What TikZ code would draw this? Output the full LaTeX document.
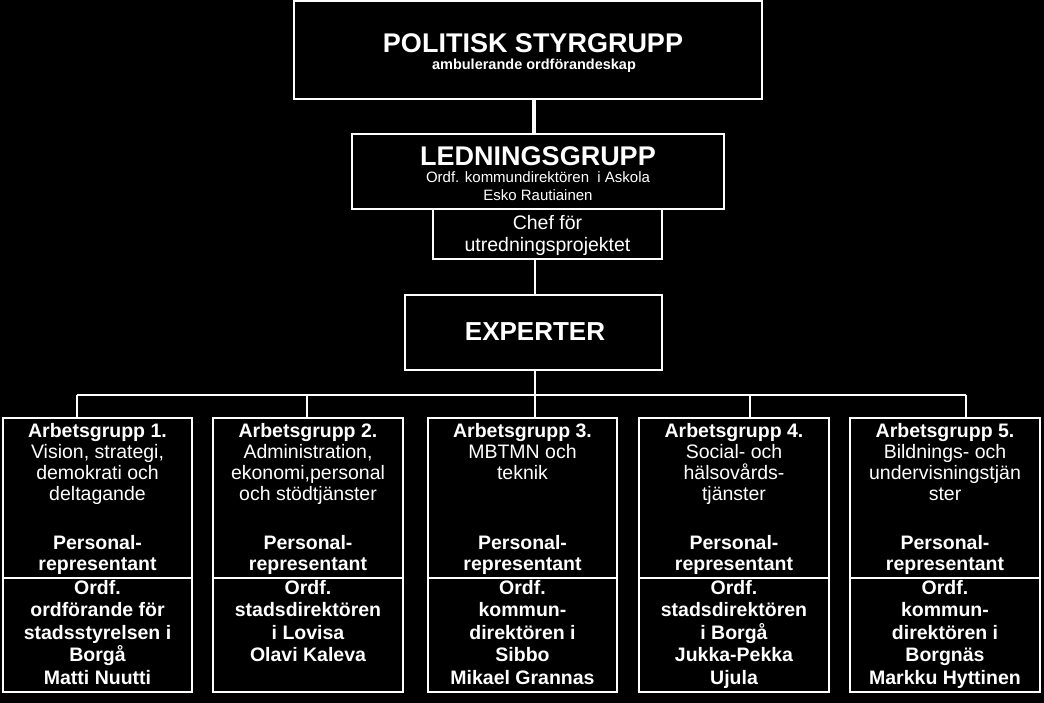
\documentclass[tikz,border=0pt]{standalone}
\usepackage{fontspec}
\setmainfont{Liberation Sans}
\begin{document}
\begin{tikzpicture}[x=1pt,y=-1pt,
  box/.style={draw=white,line width=1.6pt,inner sep=0pt},
  wline/.style={draw=white,line width=2pt},
  gt/.style={text=white,align=center,anchor=north,font=\fontsize{19.5}{21}\selectfont,inner sep=0pt},
]
\fill[black] (0,0) rectangle (1044,703);
\useasboundingbox (0,0) rectangle (1044,703);
\node[box,minimum width=468,minimum height=98] (pol) at (528,50) {};
\node[text=white,font=\bfseries\fontsize{27}{30}\selectfont] (polt) at (533,43) {POLITISK STYRGRUPP};
\node[text=white,font=\bfseries\fontsize{14.5}{16}\selectfont] (pols) at (534,66) {ambulerande ordförandeskap};
\node[box,minimum width=372,minimum height=75] (led) at (538,171.5) {};
\node[text=white,font=\bfseries\fontsize{27}{30}\selectfont] (ledt) at (538,156) {LEDNINGSGRUPP};
\node[gt,font=\fontsize{15}{18}\selectfont] (leds) at (538,171) {Ordf. kommundirektören\ \ i Askola\\Esko Rautiainen};
\node[box,minimum width=229,minimum height=50] (chef) at (547.5,234) {};
\node[gt,font=\fontsize{19.5}{22}\selectfont] (chefs) at (547.5,215) {Chef för\\utredningsprojektet};
\node[box,minimum width=257,minimum height=75] (exp) at (533.5,332.5) {};
\node[text=white,font=\bfseries\fontsize{26}{30}\selectfont] (expt) at (535,332) {EXPERTER};
\draw[white,line width=4pt] (pol.south -| 534,0) -- (led.north -| 534,0);
\draw[wline] (chef.south -| 535,0) -- (exp.north -| 535,0);
\coordinate (bus) at (535,395);
\draw[wline] (exp.south -| 535,0) -- (bus);
\draw[wline] (77,395) -- (966,395);
\foreach \i/\l/\r/\cx in {1/3/192/77,2/213/403/307,3/428/617/535,4/639/829/750,5/850/1040/966}{
  \node[box,minimum width={\r-\l},minimum height=274] (g\i) at ({(\l+\r)/2},555) {};
  \draw[white,line width=1.6pt] (\l,578) -- (\r,578);
  \draw[wline] (\cx,395) -- (g\i.north -| \cx,0);
}
\foreach \i/\t in {1/{Vision, strategi,\\demokrati och\\deltagande},2/{Administration,\\ekonomi,personal\\och stödtjänster},3/{MBTMN och\\teknik},4/{Social- och\\hälsovårds-\\tjänster},5/{Bildnings- och\\undervisningstjän\\ster}}{
  \node[gt] (h\i) at ([yshift=-6]g\i.north) {\textbf{Arbetsgrupp \i.}\\\t};
  \node[gt,font=\bfseries\fontsize{19.5}{21}\selectfont] (p\i) at ([yshift=20]g\i.center) {Personal-\\representant};
}
\foreach \i/\t in {1/{Ordf.\\ordförande för\\stadsstyrelsen i\\Borgå\\Matti Nuutti},2/{Ordf.\\stadsdirektören\\i Lovisa\\Olavi Kaleva},3/{Ordf.\\kommun-\\direktören i\\Sibbo\\Mikael Grannas},4/{Ordf.\\stadsdirektören\\i Borgå\\Jukka-Pekka\\Ujula},5/{Ordf.\\kommun-\\direktören i\\Borgnäs\\Markku Hyttinen}}{
  \node[gt,font=\bfseries\fontsize{19.5}{22.5}\selectfont] (o\i) at ([yshift=-25]g\i.center) {\t};
}
\end{tikzpicture}
\end{document}
